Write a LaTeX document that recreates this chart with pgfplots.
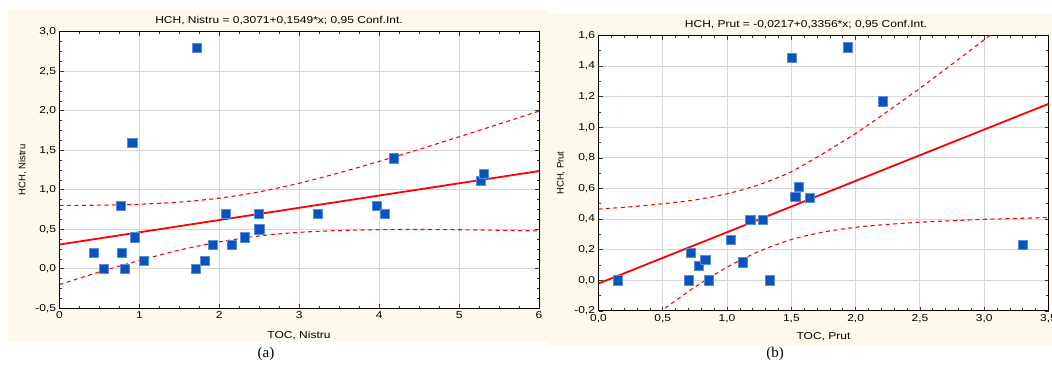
\documentclass[border=0pt]{standalone}
\usepackage{fontspec}
\setmainfont{Liberation Sans}
\newfontfamily\capfont{Liberation Serif}
\usepackage{graphicx}
\usepackage{pgfplots}
\pgfplotsset{compat=1.18}
\definecolor{cream}{RGB}{254,249,237}
\definecolor{ptblue}{RGB}{8,84,190}
\definecolor{ptedge}{RGB}{90,140,215}
\definecolor{gridc}{RGB}{215,215,215}
\newcommand{\sx}[1]{\scalebox{1.2}[1]{#1}}
\pgfplotsset{
  stat/.style={
    scale only axis,
    anchor=south west,
    axis background/.style={fill=white},
    axis line style={black,line width=0.8pt},
    tick align=inside,
    major tick length=4pt,
    minor tick length=2.5pt,
    tick style={black!80,line width=0.6pt},
    grid=major,
    major grid style={draw=gridc,line width=0.9pt},
    /pgf/number format/assume math mode=true,
    ticklabel style={font=\fontsize{10}{12}\selectfont},
    xticklabel={\sx{\pgfmathprintnumber{\tick}}},
    yticklabel={\sx{\pgfmathprintnumber{\tick}}},
    yticklabel style={/pgf/number format/.cd,use comma,fixed,fixed zerofill,precision=1},
  },
  pts/.style={only marks,mark=square*,mark size=4.6pt,
    mark options={fill=ptblue,draw=ptedge,line width=0.4pt}},
  reg/.style={red,line width=1.8pt,no marks},
  band/.style={red,line width=1.1pt,no marks,smooth,dash pattern=on 4pt off 3.5pt},
}
\begin{document}
\begin{tikzpicture}[x=1pt,y=1pt]
\useasboundingbox (0,0) rectangle (1052,368);
\fill[cream] (8,26.3) rectangle (547.5,359.5);
\fill[cream] (548,22.2) rectangle (1052,355.1);
% ---------------- (a) ----------------
\begin{axis}[stat,
  at={(59.5pt,59.7pt)}, width=479.5pt, height=276.6pt,
  xmin=0, xmax=6, ymin=-0.5, ymax=3,
  xtick={0,1,2,3,4,5,6}, ytick={-0.5,0,0.5,1,1.5,2,2.5,3},
  minor x tick num=3, minor y tick num=3,
  xticklabel style={/pgf/number format/.cd,fixed,precision=0},
]
\addplot[band] coordinates {(0,0.802) (0.5,0.805) (1,0.817) (1.5,0.844) (2,0.894) (2.5,0.974) (3,1.083) (3.5,1.214) (4,1.359) (4.5,1.511) (5,1.670) (5.5,1.831) (6,1.995)};
\addplot[band] coordinates {(0,-0.200) (0.5,-0.040) (1,0.105) (1.5,0.236) (2,0.340) (2.5,0.416) (3,0.461) (3.5,0.484) (4,0.495) (4.5,0.497) (5,0.494) (5.5,0.487) (6,0.479)};
\addplot[reg] coordinates {(0,0.3071) (6,1.2365)};
\addplot[pts] coordinates {
(0.43,0.2) (0.55,0.0) (0.77,0.8) (0.78,0.2) (0.82,0.0) (0.94,0.4) (1.05,0.1)
(1.70,0.0) (1.82,0.1) (1.92,0.3) (2.08,0.7) (2.15,0.3) (2.32,0.4) (2.49,0.7)
(2.50,0.5) (3.23,0.7) (3.97,0.8) (4.07,0.7) (5.27,1.11) (5.31,1.2)
(1.72,2.8) (0.91,1.6) (4.18,1.4)};
\end{axis}
% ---------------- (b) ----------------
\begin{axis}[stat,
  at={(598.5pt,57.2pt)}, width=450pt, height=275.3pt,
  xmin=0, xmax=3.5, ymin=-0.2, ymax=1.6,
  xtick={0,0.5,1,1.5,2,2.5,3,3.5}, ytick={-0.2,0,0.2,0.4,0.6,0.8,1,1.2,1.4,1.6},
  minor x tick num=4, minor y tick num=1,
  xticklabel style={/pgf/number format/.cd,use comma,fixed,fixed zerofill,precision=1},
]
\addplot[band] coordinates {(0,0.465) (0.25,0.480) (0.5,0.500) (0.75,0.525) (1,0.565) (1.25,0.625) (1.5,0.710) (1.75,0.830) (2,0.960) (2.25,1.105) (2.5,1.255) (2.75,1.413) (3,1.572) (3.25,1.734) (3.5,1.896)};
\addplot[band] coordinates {(0,-0.501) (0.25,-0.345) (0.5,-0.193) (0.75,-0.045) (1,0.085) (1.25,0.189) (1.5,0.266) (1.75,0.315) (2,0.346) (2.25,0.365) (2.5,0.379) (2.75,0.389) (3,0.398) (3.25,0.404) (3.5,0.410)};
\addplot[reg] coordinates {(0,-0.0217) (3.5,1.1529)};
\addplot[pts] coordinates {
(0.15,0.0) (0.70,0.0) (0.72,0.18) (0.78,0.097) (0.83,0.133) (0.86,0.0)
(1.03,0.264) (1.12,0.118) (1.18,0.397) (1.28,0.397) (1.33,0.0) (1.53,0.546)
(1.56,0.61) (1.64,0.541) (3.30,0.231) (1.50,1.457) (1.94,1.524) (2.21,1.171)};
\end{axis}
% titles and labels
\node[font=\fontsize{10}{12}\selectfont] at (279,347) {\sx{HCH, Nistru = 0,3071+0,1549*x; 0,95 Conf.Int.}};
\node[font=\fontsize{10}{12}\selectfont] at (806,343.6) {\sx{HCH, Prut = -0,0217+0,3356*x; 0,95 Conf.Int.}};
\node[font=\fontsize{10}{12}\selectfont] at (299,32) {\sx{TOC, Nistru}};
\node[font=\fontsize{10}{12}\selectfont] at (823.5,31) {\sx{TOC, Prut}};
\node[font=\fontsize{9.5}{11}\selectfont,rotate=90] at (22.5,198) {HCH, Nistru};
\node[font=\fontsize{9.5}{11}\selectfont,rotate=90] at (561,195) {HCH, Prut};
\node[font=\capfont\fontsize{15}{18}\selectfont] at (266,14.5) {(a)};
\node[font=\capfont\fontsize{15}{18}\selectfont] at (775,14.5) {(b)};
\end{tikzpicture}
\end{document}
